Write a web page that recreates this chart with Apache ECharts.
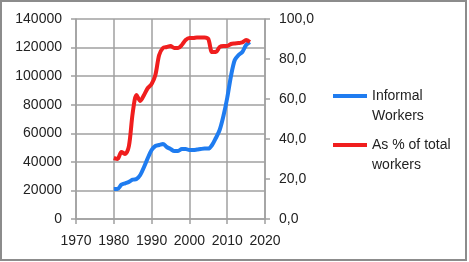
<!DOCTYPE html>
<html><head><meta charset="utf-8">
<script src="https://cdn.jsdelivr.net/npm/echarts@6/dist/echarts.min.js"></script>
<style>html,body{margin:0;padding:0;background:#fff}#c{width:469px;height:262px}</style>
</head><body><div id="c"></div>
<script>
const years = [1980,1981,1982,1983,1984,1985,1986,1987,1988,1989,1990,1991,1992,1993,1994,1995,1996,1997,1998,1999,2000,2001,2002,2003,2004,2005,2006,2007,2008,2009,2010,2011,2012,2013,2014,2015,2016];
const informalWorkers = [21000,21000,24000,25000,26000,27500,28000,30800,36400,42700,48300,51100,51800,52500,50400,49000,47600,47600,49000,49000,48300,48300,48600,49000,49300,49300,51800,56700,62300,72100,84700,100100,111300,114800,116900,121800,123900];
const pctOfTotal = [30.5,30,33.5,32.5,36.5,53,62,59,62,65.5,67.5,72,82,85.5,86,86.5,85.5,85.5,87,89.5,90.5,90.5,90.8,90.8,90.8,90,83.5,83.5,86,86.5,86.5,87.5,87.8,88,88.3,89.5,88.5];
const seriesNames = ['Informal Workers','As % of total workers'];
const legendLabels = {'Informal Workers':' \nInformal\nWorkers','As % of total workers':' \nAs % of total\nworkers'};

const font = 'Liberation Sans';
const txt = {color:'#222', fontFamily:font, fontSize:14};
const gridColor = '#a0a0a0';
const chart = echarts.init(document.getElementById('c'));
chart.setOption({
  animation:false,
  grid:{left:76, right:204, top:19, bottom:43},
  graphic:[{type:'rect', shape:{x:1,y:1,width:465,height:259}, style:{fill:null, stroke:'#8c8c8c', lineWidth:2}, silent:true}],
  legend:{
    orient:'vertical', left:328, top:61, itemWidth:34, itemHeight:4, itemGap:-11,
    icon:'rect',
    data:seriesNames,
    formatter:n=>legendLabels[n],
    textStyle:Object.assign({}, txt, {lineHeight:20})
  },
  xAxis:{type:'value', min:1970, max:2020, interval:10,
    axisLine:{lineStyle:{color:gridColor, width:1.5}},
    axisTick:{show:true, length:5, lineStyle:{color:gridColor, width:1.5}},
    axisLabel:Object.assign({}, txt, {margin:15, formatter:v=>String(v)}),
    splitLine:{show:true, lineStyle:{color:gridColor, width:1.5}}
  },
  yAxis:[
    {type:'value', min:0, max:140000, interval:20000,
      axisLine:{show:true, lineStyle:{color:gridColor, width:1.5}},
      axisTick:{show:true, length:5, lineStyle:{color:gridColor, width:1.5}},
      axisLabel:Object.assign({}, txt, {margin:14, formatter:v=>String(v)}),
      splitLine:{show:true, lineStyle:{color:gridColor, width:1.5}}
    },
    {type:'value', min:0, max:100, interval:20, position:'right',
      axisLine:{show:true, lineStyle:{color:gridColor, width:1.5}},
      axisTick:{show:true, length:5, lineStyle:{color:gridColor, width:1.5}},
      axisLabel:Object.assign({}, txt, {margin:14, formatter:v=>v.toFixed(1).replace('.',',')}),
      splitLine:{show:false}
    }
  ],
  series:[
    {name:seriesNames[0], type:'line', yAxisIndex:0, smooth:0.3, showSymbol:false, symbol:'none',
      data:years.map((y,i)=>[y,informalWorkers[i]]),
      lineStyle:{color:'#1f7cf0', width:4}, itemStyle:{color:'#1f7cf0'}, z:2},
    {name:seriesNames[1], type:'line', yAxisIndex:1, smooth:0.3, showSymbol:false, symbol:'none',
      data:years.map((y,i)=>[y,pctOfTotal[i]]),
      lineStyle:{color:'#f01e1e', width:4}, itemStyle:{color:'#f01e1e'}, z:3}
  ]
});
</script></body></html>
